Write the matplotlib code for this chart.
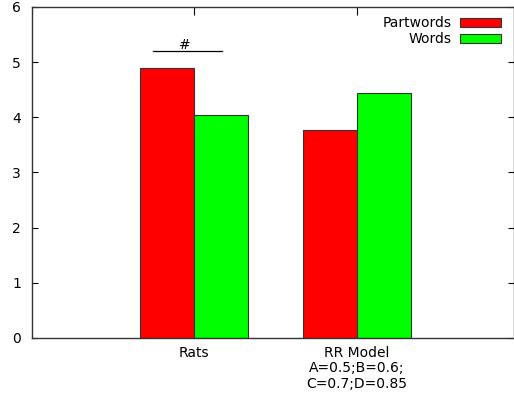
import numpy as np
import matplotlib.pyplot as plt

# Data.
categories = ['Rats', 'RR Model\nA=0.5;B=0.6;\nC=0.7;D=0.85']
partwords = [4.90, 3.77]
words = [4.04, 4.44]

# Significance marker above the Rats pair.
sig_y = 5.2
sig_x = [-0.25, 0.17]

fig = plt.figure(figsize=(5.14, 3.98), dpi=100)
ax = fig.add_axes([0.0623, 0.1508, 0.9377, 0.8317])

x = np.arange(len(categories))
w = 0.33
ax.bar(x - w / 2, partwords, w, color='#ff0000', edgecolor='#333333', linewidth=0.8, label='Partwords')
ax.bar(x + w / 2, words, w, color='#00ff00', edgecolor='#333333', linewidth=0.8, label='Words')

ax.plot(sig_x, [sig_y, sig_y], color='black', linewidth=0.9)
ax.text(-0.055, sig_y - 0.01, '#', ha='center', va='bottom', fontsize=10)

ax.set_xlim(-0.994, 1.963)
ax.set_ylim(0, 6)
ax.set_yticks(range(7))
ax.set_xticks(x)
ax.set_xticklabels(categories, fontsize=10, linespacing=1.1)
ax.tick_params(axis='y', direction='in', left=True, right=True, length=4, labelsize=10, pad=8)
ax.tick_params(axis='x', direction='in', bottom=False, top=True, length=6, pad=6)

for s in ax.spines.values():
    s.set_color('#333333')
    s.set_linewidth(1.0)

ax.legend(loc='upper right', frameon=False, fontsize=10, markerfirst=False,
          handlelength=2.95, handleheight=0.6, handletextpad=0.6,
          labelspacing=0.15, borderaxespad=0.25, bbox_to_anchor=(0.991, 1.0))

fig.savefig('out.png', dpi=100)
